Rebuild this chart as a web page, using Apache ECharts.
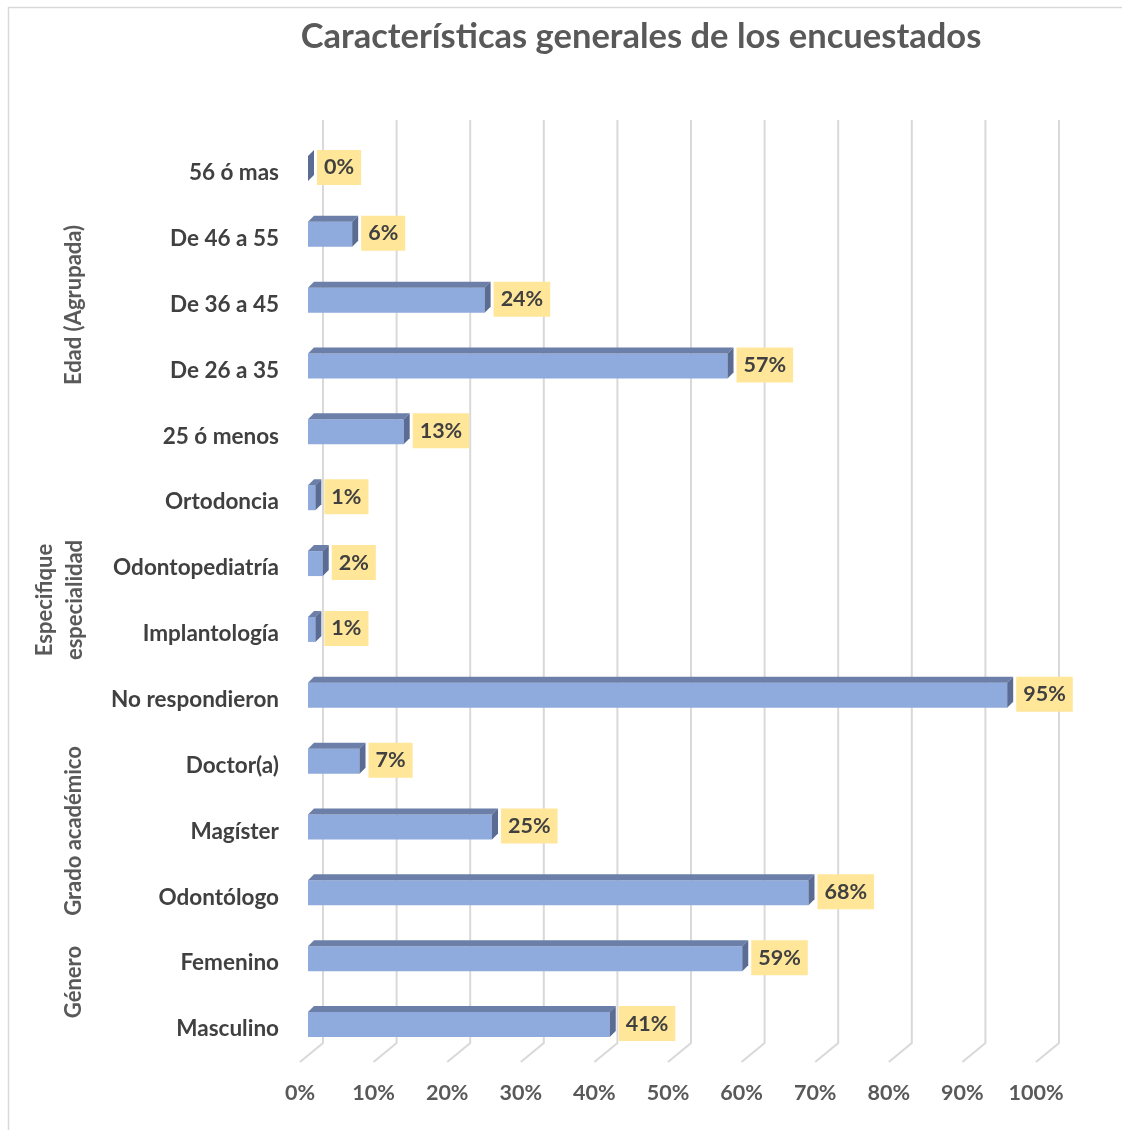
<!DOCTYPE html>
<html><head><meta charset="utf-8">
<script src="https://cdn.jsdelivr.net/npm/echarts@6/dist/echarts.min.js"></script>
<style>html,body{margin:0;padding:0;background:#fff}#c{width:1122px;height:1130px}</style>
</head><body><div id="c"></div>
<script>
// Data (top to bottom)
const categories = ['56 ó mas','De 46 a 55','De 36 a 45','De 26 a 35','25 ó menos','Ortodoncia','Odontopediatría','Implantología','No respondieron','Doctor(a)','Magíster','Odontólogo','Femenino','Masculino'];
const values = [0, 6, 24, 57, 13, 1, 2, 1, 95, 7, 25, 68, 59, 41];
const ticks = [0,10,20,30,40,50,60,70,80,90,100];
const groupLabels = ['Edad (Agrupada)', 'Especifique\nespecialidad', 'Grado académico', 'Género'];

const FONT = 'Lato, "Open Sans", sans-serif';
const chart = echarts.init(document.getElementById('c'), null, {renderer:'canvas'});

const BD = 23, BDY = 19; // back-wall offset
const BX = 8;            // bar front offset from floor front
const BH = 25, DEP = 6;

const grpStyle = {fontFamily: FONT, fontSize: 22, fontWeight: 'bold', fill: '#595959', align: 'center', verticalAlign: 'middle'};

chart.setOption({
  backgroundColor: '#fff',
  animation: false,
  title: {
    text: 'Características generales de los encuestados',
    left: 636, top: 14, textAlign: 'center',
    textStyle: {fontFamily: FONT, fontSize: 34.5, fontWeight: 'bold', color: '#595959'}
  },
  grid: {left: 300, width: 736, top: 140, bottom: 68, containLabel: false},
  xAxis: {
    type: 'value', min: 0, max: 100, interval: 10,
    axisLine: {show: false}, axisTick: {show: false}, splitLine: {show: false},
    axisLabel: {formatter: '{value}%', fontFamily: FONT, fontSize: 21.5, fontWeight: 'bold', color: '#595959', margin: 20}
  },
  yAxis: {
    type: 'category', data: categories, inverse: true,
    axisLine: {show: false}, axisTick: {show: false},
    axisLabel: {fontFamily: FONT, fontSize: 22.5, fontWeight: 'bold', color: '#404040', margin: 21,
      formatter: v => v, padding: [4, 0, 0, 0]}
  },
  graphic: [
    {type: 'line', shape: {x1: 8, y1: 7.5, x2: 1122, y2: 7.5}, style: {stroke: '#d9d9d9', lineWidth: 1.5}},
    {type: 'line', shape: {x1: 8.5, y1: 7, x2: 8.5, y2: 1130}, style: {stroke: '#d9d9d9', lineWidth: 1.5}},
    {type: 'text', x: 74, y: 305, rotation: Math.PI/2, style: Object.assign({text: groupLabels[0]}, grpStyle)},
    {type: 'text', x: 60, y: 600, rotation: Math.PI/2, style: Object.assign({text: groupLabels[1], lineHeight: 30}, grpStyle)},
    {type: 'text', x: 74, y: 831, rotation: Math.PI/2, style: Object.assign({text: groupLabels[2]}, grpStyle)},
    {type: 'text', x: 74, y: 982, rotation: Math.PI/2, style: Object.assign({text: groupLabels[3]}, grpStyle)}
  ],
  series: [
    {
      type: 'custom', name: 'grid', silent: true, z: 1,
      data: ticks.map(t => [t]),
      renderItem: function(params, api) {
        const p = api.coord([api.value(0), categories[categories.length-1]]);
        const cs = params.coordSys;
        const x = p[0];
        const bottom = cs.y + cs.height;
        const top = cs.y - 20;
        return {type: 'polyline', shape: {points: [[x+BD, top], [x+BD, bottom-BDY], [x, bottom]]},
          style: {stroke: '#d9d9d9', lineWidth: 2, fill: null}};
      }
    },
    {
      type: 'custom', name: 'bars', z: 2,
      data: values.map((v, i) => [v, i]),
      encode: {x: 0, y: 1},
      renderItem: function(params, api) {
        const v = api.value(0);
        const c0 = api.coord([0, api.value(1)]);
        const c1 = api.coord([v, api.value(1)]);
        const x0 = c0[0] + BX, x1 = c1[0] + BX;
        const yc = c0[1] - 4.5;
        const yt = yc - BH/2, yb = yc + BH/2;
        const children = [];
        if (x1 > x0 + 0.5) {
          children.push({type: 'rect', shape: {x: x0, y: yt, width: x1 - x0, height: BH}, style: {fill: '#8faadc'}});
          children.push({type: 'polygon', shape: {points: [[x0, yt], [x1, yt], [x1+DEP, yt-DEP], [x0+DEP, yt-DEP]]}, style: {fill: '#6b7fa8'}});
        }
        children.push({type: 'polygon', shape: {points: [[x1, yt], [x1+DEP, yt-DEP], [x1+DEP, yb-DEP], [x1, yb]]}, style: {fill: '#5a6c93'}});
        children.push({type: 'text', style: {
          x: x1 + DEP + 3, y: yc - 1, text: v + '%', fontFamily: FONT, fontSize: 21.5, fontWeight: 'bold', fill: '#404040',
          backgroundColor: '#ffe699', padding: [7, 7, 6, 7], verticalAlign: 'middle', align: 'left'
        }, z2: 10});
        return {type: 'group', children};
      }
    }
  ]
});
</script></body></html>
